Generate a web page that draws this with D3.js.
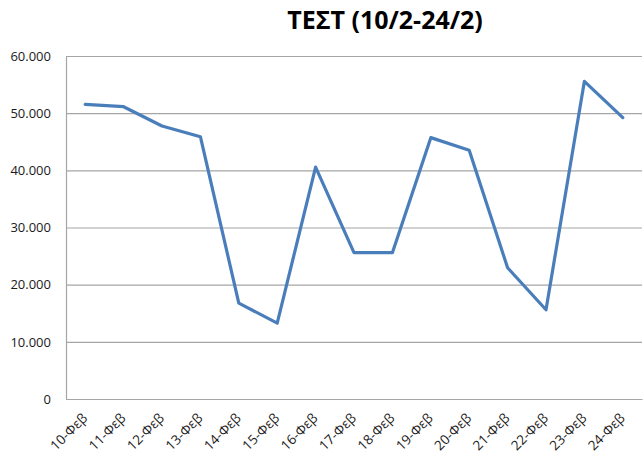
<!DOCTYPE html>
<html>
<head>
<meta charset="utf-8">
<script src="https://cdn.jsdelivr.net/npm/d3@7"></script>
<style>
  html, body { margin: 0; padding: 0; background: #fff; }
  svg { display: block; }
</style>
</head>
<body>
<svg id="chart" width="643" height="465"></svg>
<script>
const title = "ΤΕΣΤ (10/2-24/2)";
const categories = ["10-Φεβ","11-Φεβ","12-Φεβ","13-Φεβ","14-Φεβ","15-Φεβ","16-Φεβ","17-Φεβ","18-Φεβ","19-Φεβ","20-Φεβ","21-Φεβ","22-Φεβ","23-Φεβ","24-Φεβ"];
const values = [51550, 51130, 47760, 45880, 16770, 13270, 40570, 25590, 25590, 45720, 43500, 22960, 15610, 55570, 49220];
const yTicks = [0, 10000, 20000, 30000, 40000, 50000, 60000];

(function () {
const svg = d3.select("#chart");
const mLeft = 66, mRight = 642, mTop = 56, mBottom = 399;

const x = d3.scaleBand().domain(categories).range([mLeft, mRight]).paddingInner(0).paddingOuter(0);
const y = d3.scaleLinear().domain([0, 60000]).range([mBottom, mTop]);

const fmt = d3.formatLocale({decimal: ",", thousands: ".", grouping: [3], currency: ["€", ""]}).format(",.0f");

// gridlines
const grid = svg.append("g").attr("transform", `translate(${mLeft},0)`)
  .call(d3.axisLeft(y).tickValues(yTicks).tickSize(-(mRight - mLeft)).tickFormat(""));
grid.select(".domain").remove();
grid.selectAll("line").attr("stroke", "#a6a6a6").attr("stroke-width", 1.2);

// y axis labels
const yAx = svg.append("g").attr("transform", `translate(${mLeft},0)`)
  .call(d3.axisLeft(y).tickValues(yTicks).tickSize(0).tickPadding(15).tickFormat(fmt));
yAx.select(".domain").attr("stroke", "#a6a6a6").attr("stroke-width", 1.2);
yAx.selectAll("text").attr("font-family", "'Open Sans', 'Liberation Sans', sans-serif")
  .attr("font-size", 13).attr("fill", "#1a1a1a");

// x axis
const xAx = svg.append("g").attr("transform", `translate(0,${mBottom})`)
  .call(d3.axisBottom(x).tickSize(0).tickPadding(0));
xAx.select(".domain").attr("stroke", "#a6a6a6").attr("stroke-width", 1.2);
xAx.selectAll("text")
  .attr("font-family", "'Open Sans', 'Liberation Sans', sans-serif")
  .attr("font-size", 13.5).attr("fill", "#1a1a1a")
  .attr("text-anchor", "end")
  .attr("dy", null)
  .attr("y", 0)
  .attr("transform", "translate(3,20) rotate(-45)");

// line
const line = d3.line()
  .x((d, i) => x(categories[i]) + x.bandwidth() / 2)
  .y(d => y(d));
svg.append("path").datum(values)
  .attr("d", line)
  .attr("fill", "none")
  .attr("stroke", "#4a7ebb")
  .attr("stroke-width", 3.2)
  .attr("stroke-linejoin", "round")
  .attr("stroke-linecap", "round");

// title
svg.append("text")
  .attr("x", 385).attr("y", 29)
  .attr("text-anchor", "middle")
  .attr("font-family", "'Open Sans', 'Liberation Sans', sans-serif")
  .attr("font-weight", "bold")
  .attr("font-size", 25)
  .attr("fill", "#000")
  .text(title);
})();
</script>
</body>
</html>
